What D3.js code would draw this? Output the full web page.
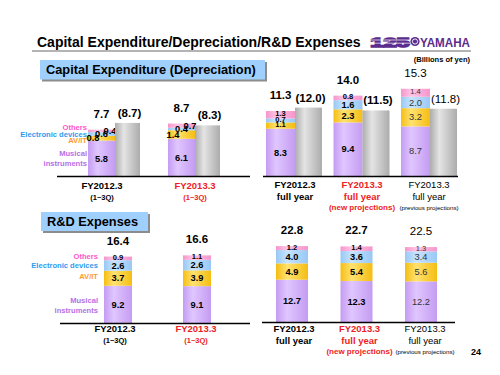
<!DOCTYPE html>
<html>
<head>
<meta charset="utf-8">
<script src="https://cdn.jsdelivr.net/npm/d3@7"></script>
<style>
  body { margin: 0; background: #fff; }
  svg { font-family: "Liberation Sans", Arial, sans-serif; }
</style>
</head>
<body>
<script>
        var w = 500;
        var h = 375;

        // series order: bottom to top of each stack
        var seriesNames = ["Musical instruments", "AV/IT", "Electronic devices", "Others"];

        // Capital expenditure, 1~3Q (depreciation in grey)
        var capQCats = ["FY2012.3", "FY2013.3"];
        var capQSub = ["(1~3Q)", "(1~3Q)"];
        var capQKind = ["actual", "new"];
        var capQMusical = [5.8, 6.1];
        var capQAvit = [0.8, 1.4];
        var capQElec = [0.6, 0.4];
        var capQOthers = [0.4, 0.7];
        var capQTotal = [7.7, 8.7];
        var capQDepr = [8.7, 8.3];

        // Capital expenditure, full year
        var capYCats = ["FY2012.3", "FY2013.3", "FY2013.3"];
        var capYSub = ["full year", "full year", "full year"];
        var capYNote = ["", "(new projections)", "(previous projections)"];
        var capYKind = ["actual", "new", "prev"];
        var capYMusical = [8.3, 9.4, 8.7];
        var capYAvit = [1.1, 2.3, 3.2];
        var capYElec = [0.7, 1.6, 2.0];
        var capYOthers = [1.3, 0.8, 1.4];
        var capYTotal = [11.3, 14.0, 15.3];
        var capYDepr = [12.0, 11.5, 11.8];

        // R&D expenses, 1~3Q
        var rdQMusical = [9.2, 9.1];
        var rdQAvit = [3.7, 3.9];
        var rdQElec = [2.6, 2.6];
        var rdQOthers = [0.9, 1.1];
        var rdQTotal = [16.4, 16.6];

        // R&D expenses, full year
        var rdYMusical = [12.7, 12.3, 12.2];
        var rdYAvit = [4.9, 5.4, 5.6];
        var rdYElec = [4.0, 3.6, 3.4];
        var rdYOthers = [1.2, 1.4, 1.3];
        var rdYTotal = [22.8, 22.7, 22.5];

        var fmt = d3.format(".1f");

        var svg = d3.select("body")
                    .append("svg")
                    .attr("width", w)
                    .attr("height", h);

        // bar gradients (light band left of centre like the slide)
        var fills = [
            ["gPurple", "#c49cf2", "#e0c6ff"],
            ["gYellow", "#f5bd12", "#ffe270"],
            ["gBlue", "#98c8f5", "#c6e4ff"],
            ["gPink", "#f595cb", "#ffc4e5"],
            ["gGrey", "#acacac", "#e4e4e4"]
        ];
        var defs = svg.append("defs");
        fills.forEach(function(f) {
            var g = defs.append("linearGradient").attr("id", f[0])
                        .attr("x1", 0).attr("x2", 1).attr("y1", 0).attr("y2", 0);
            g.append("stop").attr("offset", "0%").attr("stop-color", f[1]);
            g.append("stop").attr("offset", "35%").attr("stop-color", f[2]);
            g.append("stop").attr("offset", "100%").attr("stop-color", f[1]);
        });
        var segFill = ["url(#gPurple)", "url(#gYellow)", "url(#gBlue)", "url(#gPink)"];
        var legendColor = ["#b670e6", "#ff9a2e", "#2f9bf0", "#ff55cc"];
        var red = "#ee1c24";

        // ---- header ----
        svg.append("text")
            .attr("x", 37).attr("y", 47)
            .attr("font-size", 14).attr("font-weight", "bold")
            .text("Capital Expenditure/Depreciation/R&D Expenses");

        svg.append("line")
            .attr("x1", 32).attr("x2", 471).attr("y1", 51).attr("y2", 51)
            .attr("stroke", "#b4b4b4").attr("stroke-width", 2);

        // logo
        var purple = "#5b2d8e";
        svg.append("text")
            .attr("x", 370.5).attr("y", 46.5)
            .attr("font-size", 13).attr("font-weight", "bold")
            .attr("textLength", 39).attr("lengthAdjust", "spacingAndGlyphs")
            .attr("fill", purple).attr("stroke", purple).attr("stroke-width", 1.6)
            .text("125");
        [40, 43.2].forEach(function(y) {
            svg.append("line").attr("x1", 369).attr("x2", 411).attr("y1", y).attr("y2", y)
                .attr("stroke", "#fff").attr("stroke-width", 0.7);
        });
        svg.append("circle").attr("cx", 415).attr("cy", 41.5).attr("r", 4.6).attr("fill", purple);
        svg.append("circle").attr("cx", 415).attr("cy", 41.5).attr("r", 2.6)
            .attr("fill", "none").attr("stroke", "#fff").attr("stroke-width", 0.9);
        svg.append("text")
            .attr("x", 420).attr("y", 46.5)
            .attr("font-family", "'Liberation Sans Narrow', 'Liberation Sans', sans-serif")
            .attr("font-size", 13).attr("font-weight", "bold")
            .attr("textLength", 50).attr("lengthAdjust", "spacingAndGlyphs")
            .attr("fill", purple)
            .text("YAMAHA");

        svg.append("text")
            .attr("x", 470).attr("y", 62)
            .attr("text-anchor", "end")
            .attr("font-size", 7.5).attr("font-weight", "bold")
            .text("(Billions of yen)");

        // section boxes
        function sectionBox(x, y, bw, bh, label) {
            svg.append("rect").attr("x", x + 2).attr("y", y + 2).attr("width", bw).attr("height", bh)
                .attr("fill", "#8c8c8c");
            svg.append("rect").attr("x", x).attr("y", y).attr("width", bw).attr("height", bh)
                .attr("fill", "#9fcffc");
            svg.append("text").attr("x", x + 6).attr("y", y + bh / 2 + 4.5)
                .attr("font-size", 12.8).attr("font-weight", "bold")
                .text(label);
        }
        sectionBox(40, 60, 225, 19.5, "Capital Expenditure (Depreciation)");
        sectionBox(41, 212, 107, 19, "R&D Expenses");

        // ---- one panel of stacked bars ----
        function drawPanel(p) {
            var n = p.series[0].length;
            var y = d3.scaleLinear().domain([0, 10]).range([p.base, p.base - p.unit * 10]);
            var xc = d3.scalePoint().domain(d3.range(n)).range(p.centers);
            var xl = d3.scalePoint().domain(d3.range(n)).range(p.labelX);
            var g = svg.append("g");

            // stacked segments
            var stacked = d3.range(n).map(function(i) {
                var acc = 0;
                return p.series.map(function(s, k) {
                    var seg = { i: i, k: k, v: s[i], y0: acc, y1: acc + s[i] };
                    acc += s[i];
                    return seg;
                });
            });
            var segs = [].concat.apply([], stacked);

            g.selectAll("rect.seg")
                .data(segs)
                .enter()
                .append("rect")
                .attr("class", "seg")
                .attr("x", function(d) { return xc(d.i) + p.stackOff; })
                .attr("y", function(d) { return y(d.y1); })
                .attr("width", p.bw)
                .attr("height", function(d) { return y(d.y0) - y(d.y1); })
                .attr("fill", function(d) { return segFill[d.k]; });

            g.selectAll("text.seg")
                .data(segs)
                .enter()
                .append("text")
                .attr("class", "seg")
                .attr("x", function(d) {
                    var cx = xc(d.i) + p.stackOff + p.bw / 2;
                    if (p.stagger && d.k > 0) cx += (d.k - 2) * 8.5;
                    return cx;
                })
                .attr("y", function(d) {
                    var hh = y(d.y0) - y(d.y1);
                    return (y(d.y0) + y(d.y1)) / 2 + (hh < 8 && !p.stagger ? 1.5 : 3.2);
                })
                .attr("text-anchor", "middle")
                .attr("font-family", "'Liberation Sans Narrow', 'Liberation Sans', sans-serif")
                .attr("font-size", function(d) {
                    var hh = y(d.y0) - y(d.y1);
                    return hh < 8 && !p.stagger ? 7.5 : 9.3;
                })
                .attr("font-weight", function(d) { return p.kind[d.i] == "prev" ? "normal" : "bold"; })
                .attr("fill", function(d) { return p.kind[d.i] == "prev" ? "#333" : "#000"; })
                .text(function(d) { return fmt(d.v); });

            // totals above the stacks
            g.selectAll("text.tot")
                .data(p.total)
                .enter()
                .append("text")
                .attr("class", "tot")
                .attr("x", function(d, i) { return xc(i) + p.stackOff + p.bw / 2; })
                .attr("y", function(d, i) { return y(stacked[i][3].y1) - 12; })
                .attr("text-anchor", "middle")
                .attr("font-size", 11.5)
                .attr("font-weight", function(d, i) { return p.kind[i] == "prev" ? "normal" : "bold"; })
                .text(function(d) { return fmt(d); });

            // depreciation bars
            if (p.grey) {
                g.selectAll("rect.grey")
                    .data(p.grey)
                    .enter()
                    .append("rect")
                    .attr("class", "grey")
                    .attr("x", function(d, i) { return xc(i); })
                    .attr("y", function(d) { return y(d); })
                    .attr("width", p.gw)
                    .attr("height", function(d) { return p.base - y(d); })
                    .attr("fill", "url(#gGrey)");

                g.selectAll("text.grey")
                    .data(p.grey)
                    .enter()
                    .append("text")
                    .attr("class", "grey")
                    .attr("x", function(d, i) { return xc(i) + p.gw / 2 + 2; })
                    .attr("y", function(d) { return y(d) - 6; })
                    .attr("text-anchor", "middle")
                    .attr("font-size", 11.5)
                    .attr("font-weight", function(d, i) { return p.kind[i] == "prev" ? "normal" : "bold"; })
                    .text(function(d) { return "(" + fmt(d) + ")"; });
            }

            // baseline
            g.append("line")
                .attr("x1", p.line[0]).attr("x2", p.line[1])
                .attr("y1", p.base + 0.5).attr("y2", p.base + 0.5)
                .attr("stroke", "#000").attr("stroke-width", 1.6);

            // category labels
            var cat = g.selectAll("g.cat")
                .data(p.cats)
                .enter()
                .append("g")
                .attr("class", "cat")
                .attr("transform", function(d, i) { return "translate(" + xl(i) + "," + p.catY + ")"; })
                .attr("text-anchor", "middle")
                .attr("fill", function(d, i) { return p.kind[i] == "new" ? red : "#000"; });

            cat.append("text")
                .attr("font-size", 9.5)
                .attr("font-weight", function(d, i) { return p.kind[i] == "prev" ? "normal" : "bold"; })
                .text(function(d) { return d; });

            cat.append("text")
                .attr("y", p.subDy)
                .attr("font-size", p.subSize)
                .attr("font-weight", function(d, i) { return p.kind[i] == "prev" ? "normal" : "bold"; })
                .text(function(d, i) { return p.sub[i]; });

            if (p.note) {
                cat.append("text")
                    .attr("y", 21.5)
                    .attr("font-size", function(d, i) { return p.kind[i] == "prev" ? 6.2 : 8; })
                    .attr("font-weight", function(d, i) { return p.kind[i] == "prev" ? "normal" : "bold"; })
                    .text(function(d, i) { return p.note[i]; });
            }

            // series legend on the left of the panel
            if (p.legend) {
                var lg = g.append("g")
                    .attr("text-anchor", "end")
                    .attr("font-size", 7.6)
                    .attr("font-weight", "bold");
                var ly = p.legend.ys;
                [3, 2, 1].forEach(function(k, j) {
                    lg.append("text").attr("x", p.legend.x).attr("y", ly[j])
                        .attr("fill", legendColor[k]).text(seriesNames[k]);
                });
                lg.append("text").attr("x", p.legend.x).attr("y", ly[3])
                    .attr("fill", legendColor[0]).text("Musical");
                lg.append("text").attr("x", p.legend.x).attr("y", ly[4])
                    .attr("fill", legendColor[0]).text("instruments");
            }
        }

        drawPanel({
            series: [capQMusical, capQAvit, capQElec, capQOthers],
            total: capQTotal, grey: capQDepr, cats: capQCats, sub: capQSub, kind: capQKind,
            base: 176, unit: 6.1, centers: [115, 195], labelX: [102, 195],
            bw: 27, gw: 25, stackOff: -27, stagger: true, line: [57, 250],
            catY: 189, subDy: 11, subSize: 7.5,
            legend: { x: 87, ys: [130, 136.5, 143, 156, 166] }
        });

        drawPanel({
            series: [capYMusical, capYAvit, capYElec, capYOthers],
            total: capYTotal, grey: capYDepr, cats: capYCats, sub: capYSub, note: capYNote, kind: capYKind,
            base: 176, unit: 5.7, centers: [295, 430], labelX: [295, 429],
            bw: 29, gw: 27, stackOff: -29, line: [263, 458],
            catY: 188, subDy: 11.5, subSize: 9.5
        });

        drawPanel({
            series: [rdQMusical, rdQAvit, rdQElec, rdQOthers],
            total: rdQTotal, cats: capQCats, sub: capQSub, kind: capQKind,
            base: 323, unit: 4.05, centers: [118, 197], labelX: [115, 196],
            bw: 28, stackOff: -14, line: [60, 250],
            catY: 332, subDy: 10.5, subSize: 7.5,
            legend: { x: 98, ys: [258.5, 268, 279, 303, 312.5] }
        });

        drawPanel({
            series: [rdYMusical, rdYAvit, rdYElec, rdYOthers],
            total: rdYTotal, cats: capYCats, sub: capYSub, note: capYNote, kind: capYKind,
            base: 322, unit: 3.33, centers: [292, 421], labelX: [294, 425],
            bw: 32, stackOff: -16, line: [262, 455],
            catY: 332, subDy: 12, subSize: 9.5
        });

        // page number
        svg.append("text")
            .attr("x", 476).attr("y", 355)
            .attr("text-anchor", "middle")
            .attr("font-size", 9).attr("font-weight", "bold")
            .text("24");
</script>
</body>
</html>
